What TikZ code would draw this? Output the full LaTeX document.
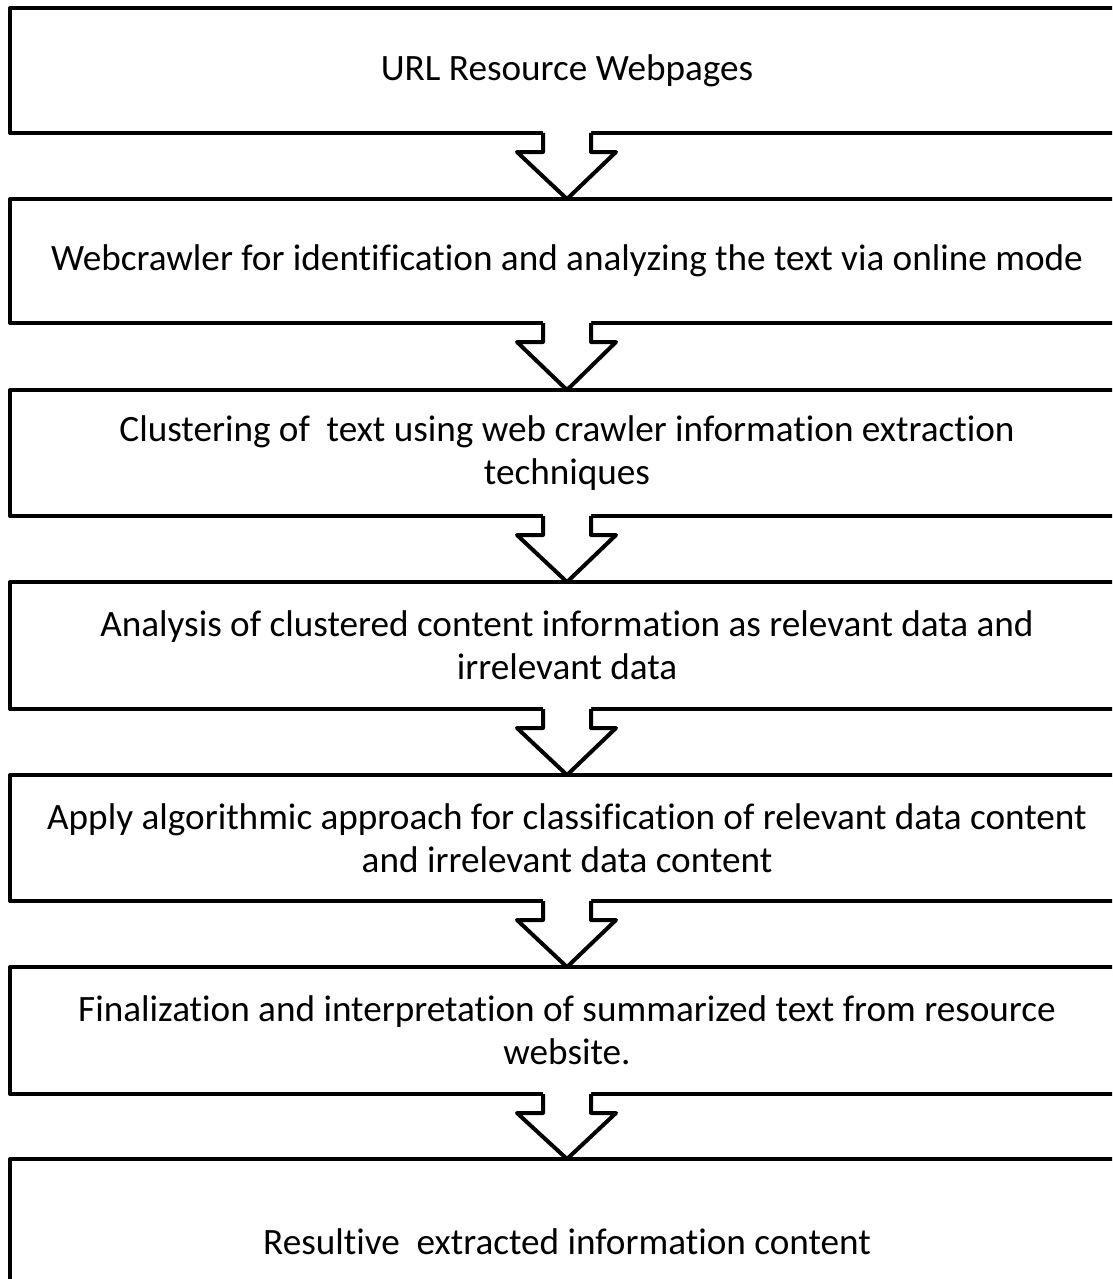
\documentclass[tikz,border=0pt]{standalone}
\usepackage{fontspec}
\setmainfont{Carlito}[Ligatures=NoCommon]
\usetikzlibrary{calc}
\begin{document}
\begin{tikzpicture}[x=1pt,y=-1pt,
  stepbox/.style={draw=black, line width=4pt, line join=round, inner sep=0pt, outer sep=0pt,
    minimum width=1114pt, align=center, font=\fontsize{37.2}{43}\selectfont},
  arrowline/.style={draw=black, line width=4pt, line join=round}]
\useasboundingbox (0,0) rectangle (1112,1279);
\clip (0,0) rectangle (1112,1279);
\node[stepbox, minimum height=125pt] (b1) at (567,70.5) {URL Resource Webpages};
\node[stepbox, minimum height=124pt] (b2) at (567,261) {Webcrawler for identification and analyzing the text via online mode};
\node[stepbox, minimum height=126pt] (b3) at (567,453) {Clustering of\ \ text using web crawler information extraction\\techniques};
\node[stepbox, minimum height=127pt] (b4) at (567,645.5) {Analysis of clustered content information as relevant data and\\irrelevant data};
\node[stepbox, minimum height=126pt] (b5) at (567,838) {Apply algorithmic approach for classification of relevant data content\\and irrelevant data content};
\node[stepbox, minimum height=127pt] (b6) at (567,1030.5) {Finalization and interpretation of summarized text from resource\\website.};
\node[stepbox, minimum height=166pt] (b7) at (567,1242) {Resultive\ \ extracted information content};
\foreach \a/\b in {b1/b2,b2/b3,b3/b4,b4/b5,b5/b6,b6/b7}{
  \fill[white] ($(\a.south)+(-24,-3)$) -- ($(\a.south)+(-24,19)$) -- ($(\a.south)+(-50,19)$) -- (\b.north)
    -- ($(\a.south)+(49,19)$) -- ($(\a.south)+(24,19)$) -- ($(\a.south)+(24,-3)$) -- cycle;
  \draw[arrowline] ($(\a.south)+(-24,0)$) -- ($(\a.south)+(-24,19)$) -- ($(\a.south)+(-50,19)$) -- (\b.north)
    -- ($(\a.south)+(49,19)$) -- ($(\a.south)+(24,19)$) -- ($(\a.south)+(24,0)$);
}
\end{tikzpicture}
\end{document}
